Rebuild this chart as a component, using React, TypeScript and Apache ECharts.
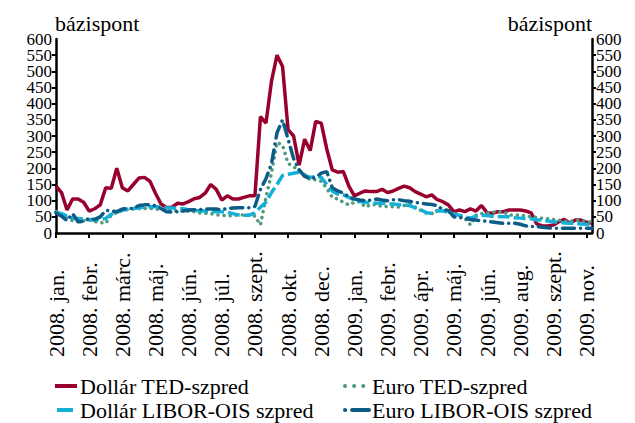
import React, { useEffect, useRef } from "react";
import * as echarts from "echarts";

const tickLabels = [
  "2008. jan.", "2008. febr.", "2008. márc.", "2008. máj.", "2008. jún.", "2008. júl.",
  "2008. szept.", "2008. okt.", "2008. dec.", "2009. jan.", "2009. febr.", "2009. ápr.",
  "2009. máj.", "2009. jún.", "2009. aug.", "2009. szept.", "2009. nov.",
];
const pointsPerLabel = 6;
const axisName = "bázispont";
const seriesNames = ["Dollár TED-szpred", "Euro TED-szpred", "Dollár LIBOR-OIS szpred", "Euro LIBOR-OIS szpred"];

const dollarTed = [
  145, 125, 71, 105, 105, 95, 68, 75, 87, 140, 138, 200, 140, 130, 150, 170, 172, 160, 123, 90,
  79, 80, 92, 90, 97, 106, 110, 123, 150, 135, 102, 115, 105, 105, 110, 115, 115, 360, 340, 470,
  550, 515, 320, 300, 210, 290, 255, 345, 340, 260, 195, 188, 190, 145, 115, 123, 130, 128, 128, 135,
  125, 130, 138, 145, 140, 128, 120, 112, 118, 103, 97, 87, 66, 71, 66, 75, 68, 85, 63, 61,
  66, 66, 71, 71, 71, 68, 62, 28, 22, 22, 25, 35, 42, 30, 40, 40, 33, 30,
];
const euroTed = [
  66, 58, 45, 38, 35, 38, 40, 35, 32, 30, 55, 64, 70, 72, 74, 75, 76, 76, 74, 72,
  71, 70, 68, 68, 67, 66, 62, 61, 60, 56, 55, 53, 54, 56, 56, 55, 52, 25, 110, 185,
  280, 272, 215, 205, 193, 180, 165, 165, 160, 138, 110, 105, 95, 87, 95, 97, 80, 88, 87, 82,
  82, 81, 80, 85, 90, 80, 70, 62, 60, 70, 68, 65, 61, 55, 45, 25, 55, 60, 62, 64,
  66, 66, 55, 56, 55, 53, 50, 48, 45, 44, 42, 40, 37, 35, 40, 38, 35, 34,
];
const dollarLiborOis = [
  65, 60, 52, 46, 45, 43, 42, 40, 42, 45, 58, 64, 70, 74, 76, 78, 80, 81, 81, 80,
  78, 77, 76, 75, 72, 70, 68, 68, 67, 66, 66, 64, 60, 56, 55, 55, 62, 80, 95, 125,
  150, 178, 182, 185, 188, 178, 172, 175, 172, 150, 130, 120, 118, 110, 102, 97, 95, 93, 92, 92,
  90, 90, 88, 87, 85, 78, 72, 63, 60, 68, 68, 64, 58, 55, 50, 46, 52, 55, 54, 52,
  51, 50, 50, 47, 46, 45, 44, 40, 40, 37, 35, 33, 31, 30, 30, 28, 27, 26,
];
const euroLiborOis = [
  62, 52, 38, 60, 35, 36, 45, 42, 50, 70, 68, 66, 74, 76, 76, 85, 87, 88, 84, 76,
  66, 65, 66, 68, 71, 72, 72, 74, 74, 74, 72, 76, 77, 78, 78, 78, 82, 135, 168, 215,
  310, 350, 290, 230, 195, 175, 168, 172, 185, 190, 140, 130, 123, 112, 105, 102, 100, 102, 105, 102,
  100, 103, 103, 100, 98, 95, 92, 90, 88, 85, 72, 70, 50, 48, 45, 42, 40, 38, 36, 34,
  32, 30, 30, 30, 27, 22, 20, 20, 18, 16, 15, 15, 15, 15, 15, 15, 15, 15,
];

const FONT = '"Liberation Serif", "DejaVu Serif", serif';
const COLORS = ["#98002e", "#4f9a7c", "#14b0d8", "#0d5c88"];
const DASHES: (number[] | null)[] = [null, [0.1, 6], [12, 4], [12, 6, 0.1, 6]];
const LEGEND_DASHES: (number[] | null)[] = [null, [0.1, 9], [16, 4], [0.1, 7, 18, 6]];

export default function App() {
  const ref = useRef<HTMLDivElement>(null);
  useEffect(() => {
    if (!ref.current) return;
    const chart = echarts.init(ref.current, undefined, { renderer: "svg" });
    const n = dollarTed.length;
    const cats: string[] = [];
    for (let i = 0; i < n; i++) {
      cats.push(i % pointsPerLabel === 0 ? tickLabels[i / pointsPerLabel] : "p" + i);
    }
    const showIdx = (i: number) => i % pointsPerLabel === 0;
    const labelStyle = { color: "#000", fontFamily: FONT, fontSize: 17, margin: 4 };
    // main axes: ticks every 50, inner labels 50..550
    const yMain = {
      type: "value",
      min: 0,
      max: 600,
      interval: 50,
      axisLine: { show: true, lineStyle: { color: "#000", width: 2.5 } },
      axisTick: { show: true, length: 4, lineStyle: { color: "#000", width: 2 } },
      axisLabel: { ...labelStyle, showMinLabel: false, showMaxLabel: false, hideOverlap: false },
      splitLine: { show: false },
    };
    // companion axes: only the 0 and 600 labels
    const yEnds = {
      type: "value",
      min: 0,
      max: 600,
      interval: 600,
      axisLine: { show: false },
      axisTick: { show: false },
      axisLabel: { ...labelStyle, showMinLabel: true, showMaxLabel: true },
      splitLine: { show: false },
    };
    const datasets = [dollarTed, euroTed, dollarLiborOis, euroLiborOis];

    const legendPos = [
      { x: 55, y: 386, w: 22 },
      { x: 343, y: 386, w: 26 },
      { x: 55, y: 410, w: 22 },
      { x: 343, y: 410, w: 26 },
    ];
    const legendGraphics: any[] = [];
    seriesNames.forEach((name, k) => {
      const p = legendPos[k];
      const dash = LEGEND_DASHES[k];
      legendGraphics.push({
        type: "line",
        shape: { x1: p.x + (dash ? 2 : 0), y1: p.y, x2: p.x + p.w, y2: p.y },
        style: {
          stroke: COLORS[k],
          lineWidth: 4,
          lineDash: dash || undefined,
          lineCap: dash && dash[0] < 1 ? "round" : "butt",
        },
      });
      legendGraphics.push({
        type: "text",
        x: p.x + p.w + 3,
        y: p.y,
        style: {
          text: name,
          font: `22px ${FONT}`,
          fill: "#000",
          verticalAlign: "middle",
          align: "left",
        },
      });
    });

    chart.setOption({
      animation: false,
      grid: { left: 56, right: 43, top: 39, bottom: 190 },
      xAxis: {
        type: "category",
        boundaryGap: false,
        data: cats,
        axisLine: { lineStyle: { color: "#000", width: 2.5 } },
        axisTick: { interval: showIdx, length: 5, lineStyle: { color: "#000", width: 2 } },
        axisLabel: {
          interval: showIdx,
          rotate: 90,
          align: "left",
          verticalAlign: "middle",
          margin: 124,
          color: "#000",
          fontFamily: FONT,
          fontSize: 22,
        },
      },
      yAxis: [
        { ...yMain, position: "left" },
        { ...yMain, position: "right" },
        { ...yEnds, position: "left" },
        { ...yEnds, position: "right" },
      ],
      graphic: [
        {
          type: "text",
          x: 55,
          y: 23,
          style: { text: axisName, font: `22px ${FONT}`, fill: "#000", verticalAlign: "middle", align: "left" },
        },
        {
          type: "text",
          x: 592,
          y: 23,
          style: { text: axisName, font: `22px ${FONT}`, fill: "#000", verticalAlign: "middle", align: "right" },
        },
        ...legendGraphics,
      ],
      series: seriesNames.map((name, k) => ({
        name,
        type: "line",
        yAxisIndex: 0,
        data: datasets[k],
        showSymbol: false,
        symbol: "none",
        color: COLORS[k],
        lineStyle: {
          color: COLORS[k],
          width: 3.5,
          type: DASHES[k] || "solid",
          cap: k === 1 || k === 3 ? "round" : "butt",
        },
      })),
    });
    return () => chart.dispose();
  }, []);
  return (
    <div
      ref={ref}
      style={{ position: "absolute", left: 0, top: 0, width: 635, height: 423, background: "#fff" }}
    />
  );
}
